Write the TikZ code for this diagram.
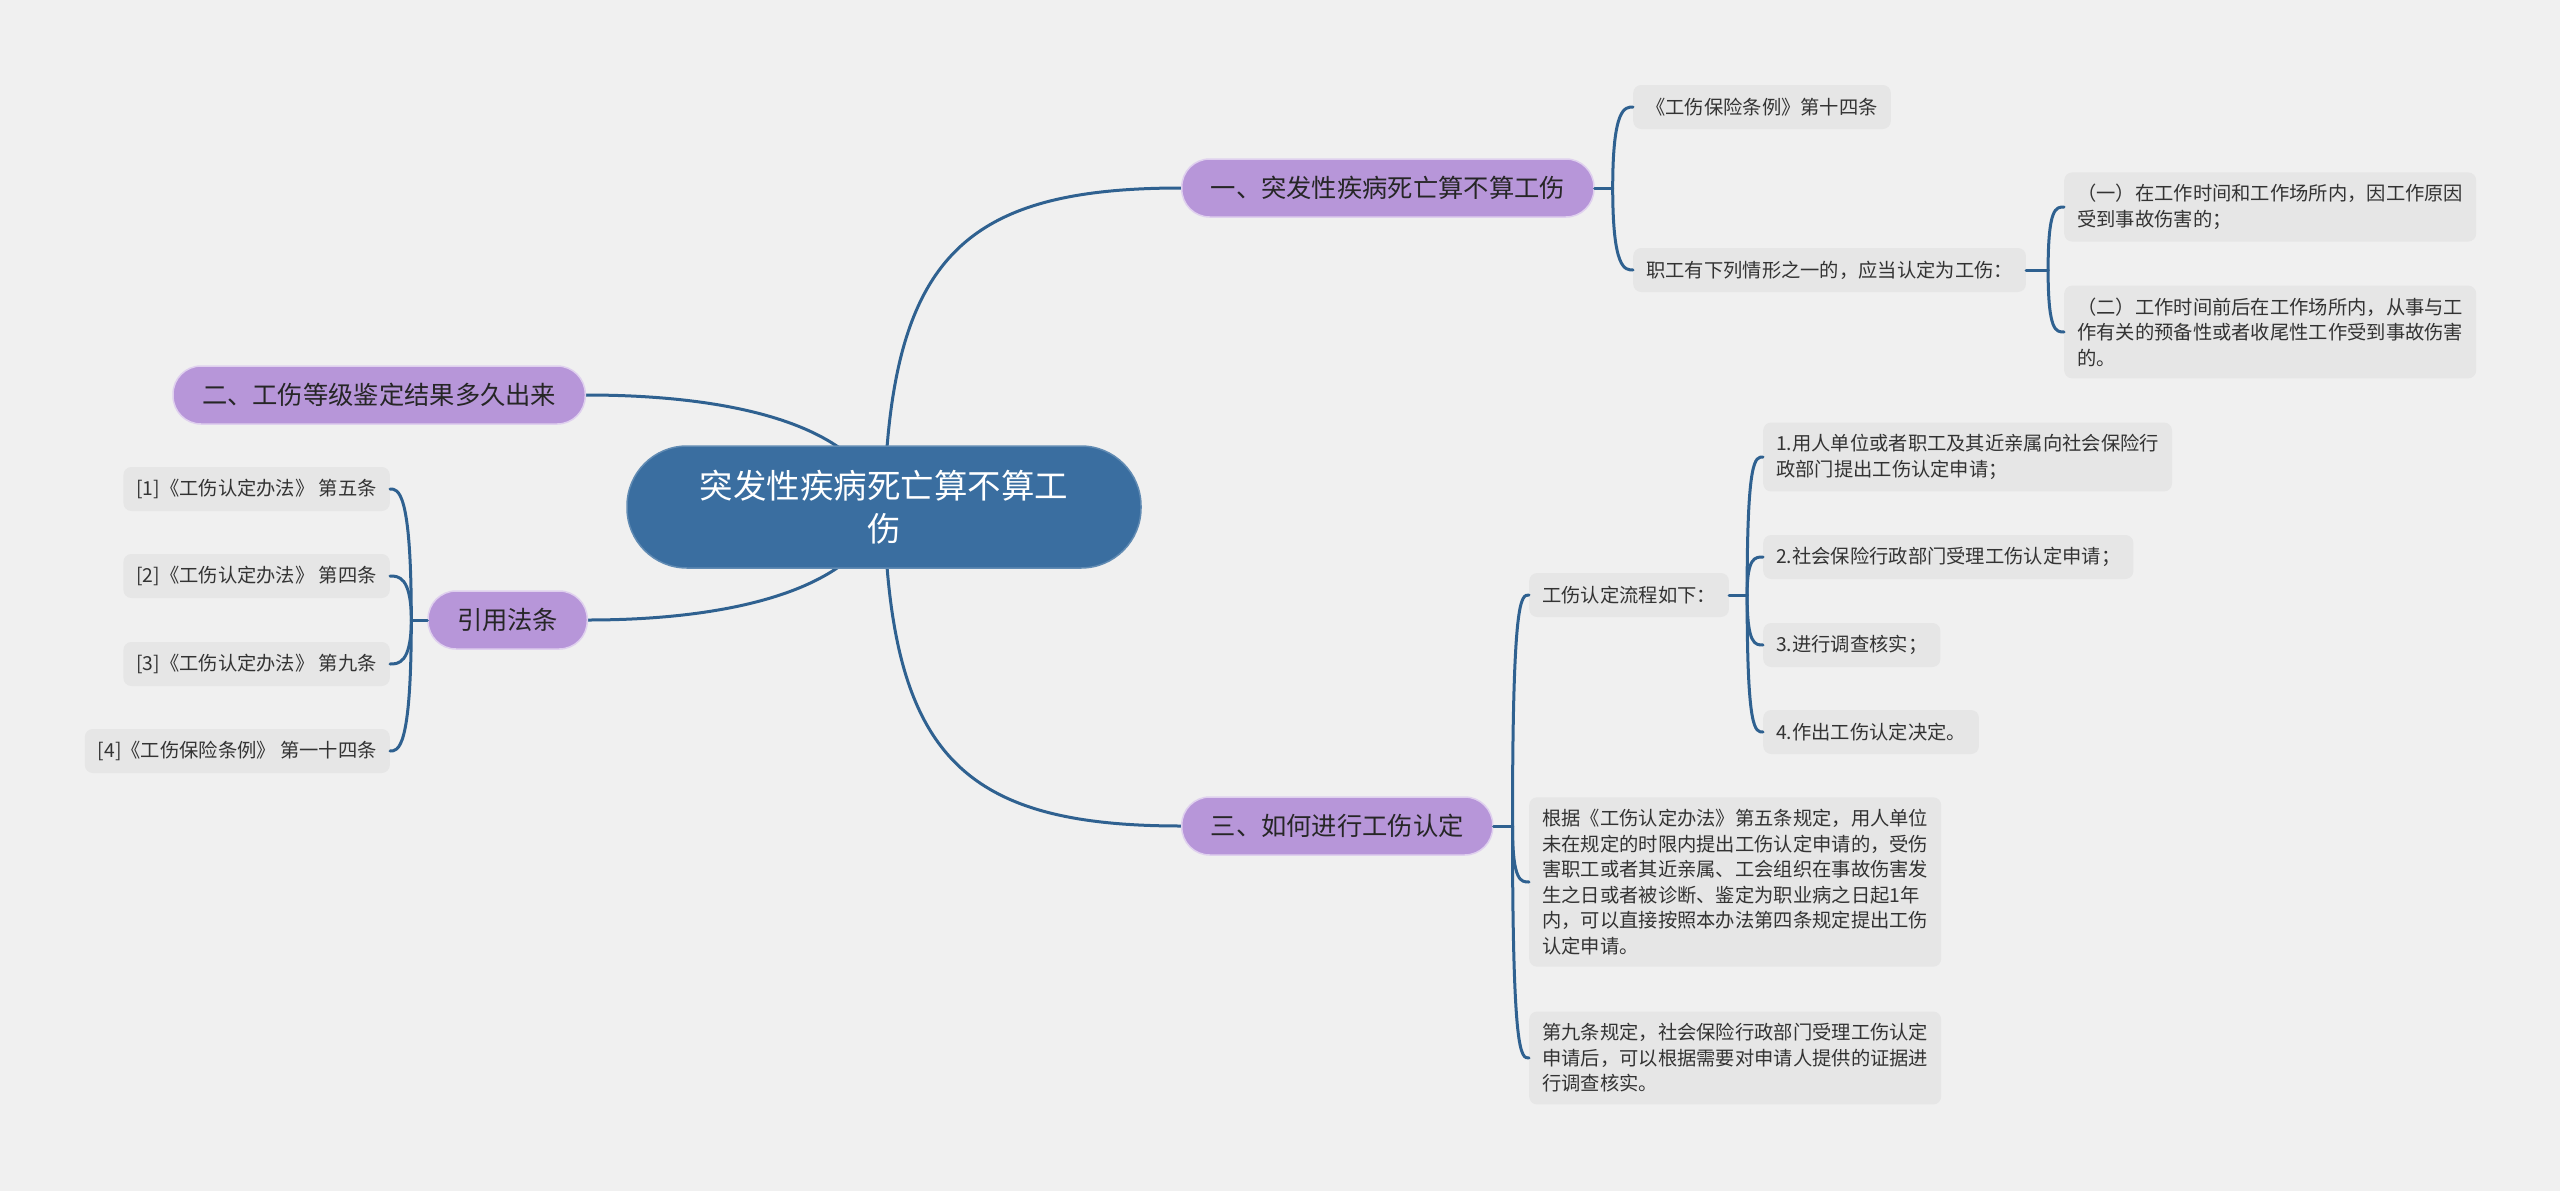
\documentclass[tikz,border=0pt]{standalone}
\usepackage{fontspec}
\setmainfont{Noto Sans CJK SC}
\usetikzlibrary{backgrounds}
\definecolor{bgc}{HTML}{F0F0F0}
\definecolor{rootc}{HTML}{3A6EA0}
\definecolor{purc}{HTML}{B796D9}
\definecolor{leafc}{HTML}{E6E6E6}
\definecolor{linec}{HTML}{2F6190}
\definecolor{txtc}{HTML}{333333}

\begin{document}
\begin{tikzpicture}[
  x=1pt,y=-1pt,
  topic/.style={fill=rootc,draw=rootc!80!white,line width=1.5pt,rounded corners=60pt,minimum width=514pt,minimum height=122pt,align=center,text=white,font=\fontsize{33.5}{43}\selectfont},
  branch/.style={fill=purc,draw=white!55!purc,line width=1.5pt,rounded corners=28pt,inner xsep=29pt,inner ysep=0pt,minimum height=58pt,text=black!85,font=\fontsize{25.3}{30}\selectfont},
  leaf/.style={fill=leafc,rounded corners=8pt,inner xsep=13pt,inner ysep=12pt,minimum height=44pt,align=left,text=txtc,font=\fontsize{19.3}{25.5}\selectfont},
  link/.style={draw=linec,line width=3pt,line cap=round}
]
\useasboundingbox (0,0) rectangle (2560,1191);
\node[topic] (t) at (884,507) {突发性疾病死亡算不算工\\伤};
\node[branch,anchor=west] (b1) at (1181,188) {一、突发性疾病死亡算不算工伤};
\node[branch,anchor=east] (b2) at (586,395) {二、工伤等级鉴定结果多久出来};
\node[branch,anchor=west] (b3) at (1181,826) {三、如何进行工伤认定};
\node[branch,anchor=east] (b4) at (588,620) {引用法条};

\node[leaf,anchor=west] (l11) at (1633,107) {《工伤保险条例》第十四条};
\node[leaf,anchor=west] (l12) at (1633,270) {职工有下列情形之一的，应当认定为工伤：};
\node[leaf,anchor=west] (l121) at (2064,207) {（一）在工作时间和工作场所内，因工作原因\\受到事故伤害的；};
\node[leaf,anchor=west] (l122) at (2064,332) {（二）工作时间前后在工作场所内，从事与工\\作有关的预备性或者收尾性工作受到事故伤害\\的。};

\node[leaf,anchor=west] (l31) at (1529,595) {工伤认定流程如下：};
\node[leaf,anchor=west] (l311) at (1763,457) {1.用人单位或者职工及其近亲属向社会保险行\\政部门提出工伤认定申请；};
\node[leaf,anchor=west] (l312) at (1763,557) {2.社会保险行政部门受理工伤认定申请；};
\node[leaf,anchor=west] (l313) at (1763,645) {3.进行调查核实；};
\node[leaf,anchor=west] (l314) at (1763,732) {4.作出工伤认定决定。};
\node[leaf,anchor=west] (l32) at (1529,882) {根据《工伤认定办法》第五条规定，用人单位\\未在规定的时限内提出工伤认定申请的，受伤\\害职工或者其近亲属、工会组织在事故伤害发\\生之日或者被诊断、鉴定为职业病之日起1年\\内，可以直接按照本办法第四条规定提出工伤\\认定申请。};
\node[leaf,anchor=west] (l33) at (1529,1058) {第九条规定，社会保险行政部门受理工伤认定\\申请后，可以根据需要对申请人提供的证据进\\行调查核实。};

\node[leaf,anchor=east] (r1) at (390,489) {[1]《工伤认定办法》 第五条};
\node[leaf,anchor=east] (r2) at (390,576) {[2]《工伤认定办法》 第四条};
\node[leaf,anchor=east] (r3) at (390,664) {[3]《工伤认定办法》 第九条};
\node[leaf,anchor=east] (r4) at (390,751) {[4]《工伤保险条例》 第一十四条};

\begin{scope}[on background layer]
\fill[bgc] (0,0) rectangle (2560,1191);
\draw[link] (t.center) .. controls +(6,-247) and +(-221,0) .. (b1.west);
\draw[link] (t.center) .. controls +(6,247) and +(-221,0) .. (b3.west);
\draw[link] (t.center) .. controls +(-24,-87) and +(134,0) .. (b2.east);
\draw[link] (t.center) .. controls +(-24,87) and +(132,0) .. (b4.east);
\end{scope}

\draw[link] (b1.east) -- ++(18,0) coordinate (s1);
\draw[link] (s1) .. controls (s1 |- l11.west) and +(-8,0) .. (l11.west);
\draw[link] (s1) .. controls (s1 |- l12.west) and +(-8,0) .. (l12.west);

\draw[link] (l12.east) -- ++(22,0) coordinate (s12);
\draw[link] (s12) .. controls (s12 |- l121.west) and +(-8,0) .. (l121.west);
\draw[link] (s12) .. controls (s12 |- l122.west) and +(-8,0) .. (l122.west);

\draw[link] (b3.east) -- ++(19,0) coordinate (s3);
\draw[link] (s3) .. controls (s3 |- l31.west) and +(-8,0) .. (l31.west);
\draw[link] (s3) .. controls (s3 |- l32.west) and +(-8,0) .. (l32.west);
\draw[link] (s3) .. controls (s3 |- l33.west) and +(-8,0) .. (l33.west);

\draw[link] (l31.east) -- ++(18,0) coordinate (s31);
\draw[link] (s31) .. controls (s31 |- l311.west) and +(-8,0) .. (l311.west);
\draw[link] (s31) .. controls (s31 |- l312.west) and +(-8,0) .. (l312.west);
\draw[link] (s31) .. controls (s31 |- l313.west) and +(-8,0) .. (l313.west);
\draw[link] (s31) .. controls (s31 |- l314.west) and +(-8,0) .. (l314.west);

\draw[link] (b4.west) -- ++(-16,0) coordinate (s4);
\draw[link] (s4) .. controls (s4 |- r1.east) and +(8,0) .. (r1.east);
\draw[link] (s4) .. controls (s4 |- r2.east) and +(8,0) .. (r2.east);
\draw[link] (s4) .. controls (s4 |- r3.east) and +(8,0) .. (r3.east);
\draw[link] (s4) .. controls (s4 |- r4.east) and +(8,0) .. (r4.east);
\end{tikzpicture}
\end{document}
